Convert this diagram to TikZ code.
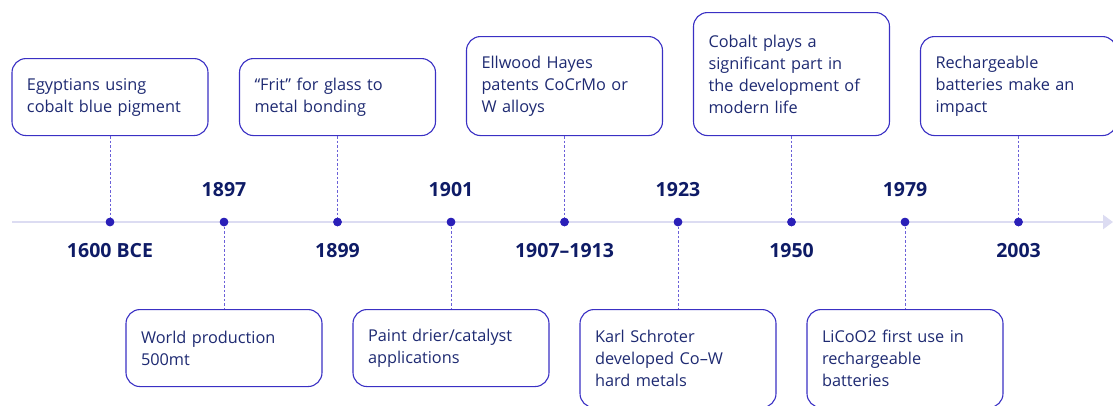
\documentclass[tikz,border=0pt]{standalone}
\usepackage{fontspec}
\setmainfont{Open Sans}
\usetikzlibrary{arrows.meta}
\definecolor{boxline}{HTML}{3A30C4}
\definecolor{boxtext}{HTML}{1E2A72}
\definecolor{yeartext}{HTML}{0E1B66}
\definecolor{dotcol}{HTML}{2A1FB8}
\definecolor{axiscol}{HTML}{DCDCF2}
\definecolor{dashcol}{HTML}{6A60D8}
\tikzset{
  evbox/.style={draw=boxline, line width=1.1pt, rounded corners=14pt, fill=white,
    text=boxtext, align=left, text width=166pt, inner xsep=15pt, inner ysep=0pt,
    minimum width=196pt, font=\fontsize{16.3}{22}\selectfont},
  year/.style={text=yeartext, font=\bfseries\fontsize{19.5}{20}\selectfont, inner sep=0pt},
  tick/.style={circle, fill=dotcol, inner sep=0pt, minimum size=8.5pt},
  link/.style={draw=dashcol, line width=0.8pt, dash pattern=on 2.5pt off 2pt},
}
\begin{document}
\begin{tikzpicture}[x=1pt,y=-1pt]
\useasboundingbox (0,0) rectangle (1113,405);
\coordinate (axstart) at (12,222);
\coordinate (axend) at (1113,222);
\draw[axiscol, line width=2.6pt, -{Triangle[length=10pt,width=14pt]}] (axstart) -- (axend);
% dots
\foreach \n/\x in {d1/110,d2/224,d3/337.5,d4/451,d5/564.5,d6/678,d7/791.5,d8/905,d9/1018.5}
  \node[tick] (\n) at (\x,222) {};
% top boxes
\node[evbox, minimum height=77pt, anchor=north] (b1) at (110,58) {Egyptians using\\cobalt blue pigment};
\node[evbox, minimum height=77pt, anchor=north] (b3) at (337.5,58) {“Frit” for glass to\\metal bonding};
\node[evbox, minimum height=99pt, anchor=north] (b5) at (564.5,36) {Ellwood Hayes\\patents CoCrMo or\\W alloys};
\node[evbox, minimum height=123pt, anchor=north] (b7) at (791.5,12) {Cobalt plays a\\significant part in\\the development of\\modern life};
\node[evbox, minimum height=99pt, anchor=north] (b9) at (1018.5,36) {Rechargeable\\batteries make an\\impact};
% bottom boxes
\node[evbox, minimum height=77pt, anchor=north] (b2) at (224,309) {World production\\500mt};
\node[evbox, minimum height=77pt, anchor=north] (b4) at (451,309) {Paint drier/catalyst\\applications};
\node[evbox, minimum height=98pt, anchor=north] (b6) at (678,309) {Karl Schroter\\developed Co–W\\hard metals};
\node[evbox, minimum height=98pt, anchor=north] (b8) at (905,309) {LiCoO2 first use in\\rechargeable\\batteries};
% links
\foreach \b/\d in {b1/d1,b3/d3,b5/d5,b7/d7,b9/d9} \draw[link] (\b.south) -- (\d.center);
\foreach \b/\d in {b2/d2,b4/d4,b6/d6,b8/d8} \draw[link] (\d.center) -- (\b.north);
% redraw dots on top
\foreach \n/\x in {e1/110,e2/224,e3/337.5,e4/451,e5/564.5,e6/678,e7/791.5,e8/905,e9/1018.5}
  \node[tick] (\n) at (\x,222) {};
% years
\node[year] (y1) at (110,251) {1600 BCE};
\node[year] (y2) at (224,190) {1897};
\node[year] (y3) at (337.5,251) {1899};
\node[year] (y4) at (451,190) {1901};
\node[year] (y5) at (564.5,251) {1907–1913};
\node[year] (y6) at (678,190) {1923};
\node[year] (y7) at (791.5,251) {1950};
\node[year] (y8) at (905,190) {1979};
\node[year] (y9) at (1018.5,251) {2003};
\end{tikzpicture}
\end{document}
